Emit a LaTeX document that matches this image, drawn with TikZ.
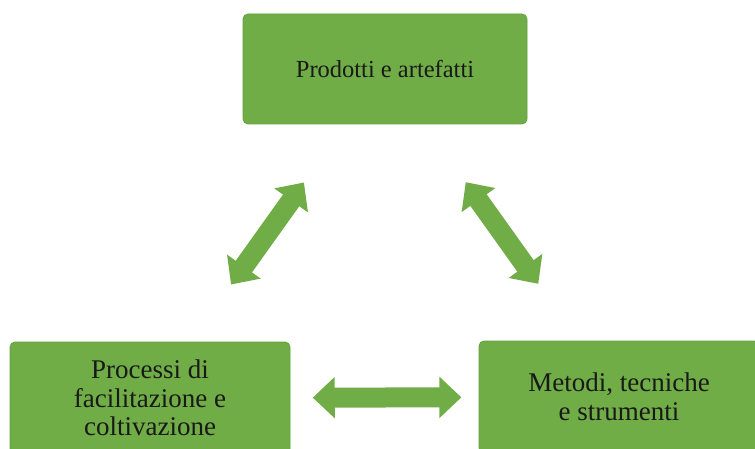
\documentclass[tikz,border=0pt]{standalone}
\usepackage{fontspec}
\setmainfont{Liberation Serif}
\usetikzlibrary{arrows.meta,calc}
\definecolor{smartgreen}{RGB}{112,173,71}
\definecolor{smartedge}{RGB}{100,160,62}
\tikzset{
  gbox/.style={draw=smartedge, line width=0.8pt, fill=smartgreen, rounded corners=5pt,
    font=\fontsize{24.5}{28}\selectfont, text=black!90, align=center, inner sep=0pt},
  lowbox/.style={gbox, font=\fontsize{27}{28.5}\selectfont},
  bigarrow/.style={draw=smartgreen, line width=20pt,
    {Triangle[width=40pt,length=22pt]}-{Triangle[width=40pt,length=22pt]}}
}
\begin{document}
\begin{tikzpicture}[x=1pt,y=-1pt]
\useasboundingbox (0,0) rectangle (755,449);
\clip (0,0) rectangle (755,449);
\fill[white] (0,0) rectangle (755,449);
\node[gbox, minimum width=284pt, minimum height=110pt] (top) at (385,69) {Prodotti e artefatti};
\node[lowbox, minimum width=280pt, minimum height=112pt] (bl) at (150,398) {Processi di\\facilitazione e\\coltivazione};
\node[lowbox, minimum width=280pt, minimum height=112pt] (br) at (619,397) {Metodi, tecniche\\e strumenti};
\draw[bigarrow] ($(top.center)!0.345!(bl.center)$) -- ($(top.center)!0.655!(bl.center)$);
\draw[bigarrow] ($(top.center)!0.345!(br.center)$) -- ($(top.center)!0.655!(br.center)$);
\draw[bigarrow] ($(bl.center)!0.347!(br.center)$) -- ($(bl.center)!0.664!(br.center)$);
\end{tikzpicture}
\end{document}
